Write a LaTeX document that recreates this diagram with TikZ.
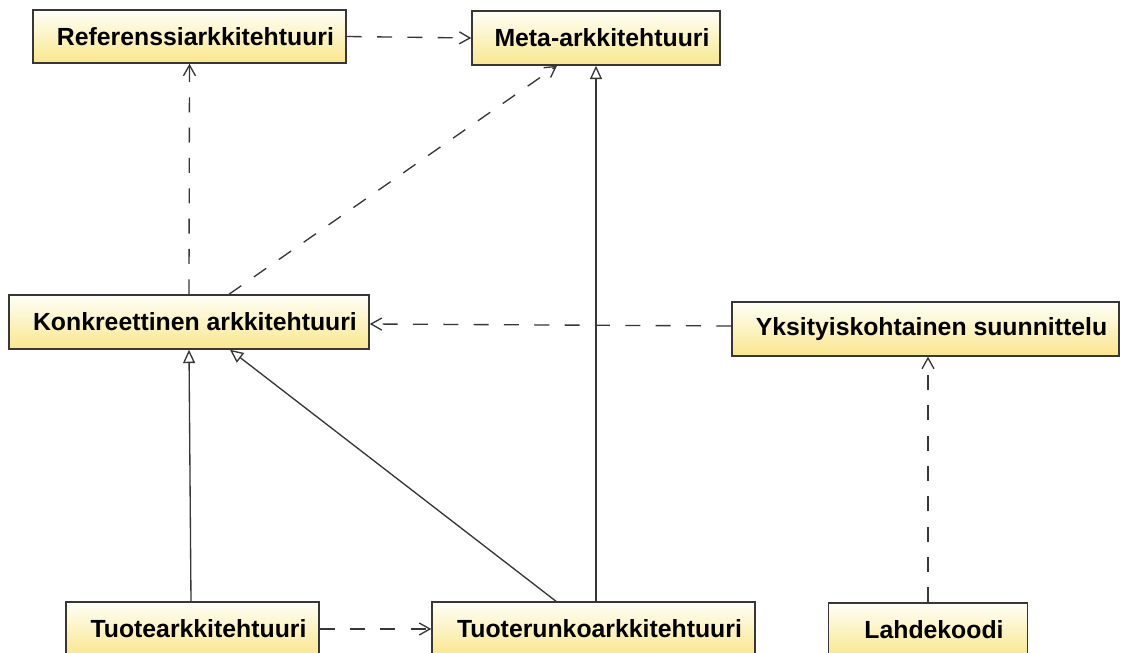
\documentclass[tikz,border=0pt]{standalone}
\usepackage{fontspec}
\setmainfont{Liberation Sans}
\usetikzlibrary{arrows.meta,calc}
\definecolor{boxyellow}{RGB}{249,231,140}
\definecolor{edgegray}{RGB}{55,55,55}
\tikzset{
  umlbox/.style={draw=edgegray, line width=1.1pt, rectangle, top color=white!97!yellow, bottom color=boxyellow,
     minimum height=40.5pt, inner sep=0pt, font=\fontsize{18.6}{22}\selectfont\bfseries},
  dep/.style={draw=edgegray, line width=1pt, dash pattern=on 11.25pt off 11.5pt, -{Straight Barb[length=8pt,width=9pt]}},
  gen/.style={draw=edgegray, line width=1pt, -{Triangle[open,length=10pt,width=9pt]}}
}
\newcommand{\shiftedtxt}[1]{\hspace*{9pt}#1}
\begin{document}
\begin{tikzpicture}[x=0.75pt,y=-0.75pt]
\clip (0,0) rectangle (1122,653);
\fill[white] (0,0) rectangle (1122,653);
\node[umlbox, minimum width=234.75pt, minimum height=39.75pt] (ref) at (189.5,36.5) {\shiftedtxt{Referenssiarkkitehtuuri}};
\node[umlbox, minimum width=186pt] (meta) at (596,38) {\shiftedtxt{Meta-arkkitehtuuri}};
\node[umlbox, minimum width=270pt] (konk) at (189,322) {\shiftedtxt{Konkreettinen arkkitehtuuri}};
\node[umlbox, minimum width=290.25pt] (yks) at (925.5,329) {\shiftedtxt{Yksityiskohtainen suunnittelu}};
\node[umlbox, minimum width=189.75pt] (tuote) at (192.5,629) {\shiftedtxt{Tuotearkkitehtuuri}};
\node[umlbox, minimum width=242.25pt] (runko) at (593.5,629) {\shiftedtxt{Tuoterunkoarkkitehtuuri}};
\node[umlbox, minimum width=149.25pt] (lahde) at (928,630) {\shiftedtxt{Lahdekoodi}};

\draw[dep] (ref.east) -- (meta.west);
\draw[dep] (konk.north) -- (ref.south);
\draw[dep] ($(konk.north)+(40,0)$) -- ($(meta.south)+(-39,0)$);
\draw[dep] ($(yks.west)+(0,-3)$) -- ($(konk.east)+(0,2)$);
\draw[dep] (lahde.north) -- (lahde.north |- yks.south);
\draw[dep] (tuote.east) -- (runko.west);
\draw[gen] ($(tuote.north)+(-1.5,0)$) -- (konk.south);
\draw[gen] ($(runko.north)+(-37.5,0)$) -- ($(konk.south)+(41,0)$);
\draw[gen] (meta.south |- runko.north) -- (meta.south);
\end{tikzpicture}
\end{document}
